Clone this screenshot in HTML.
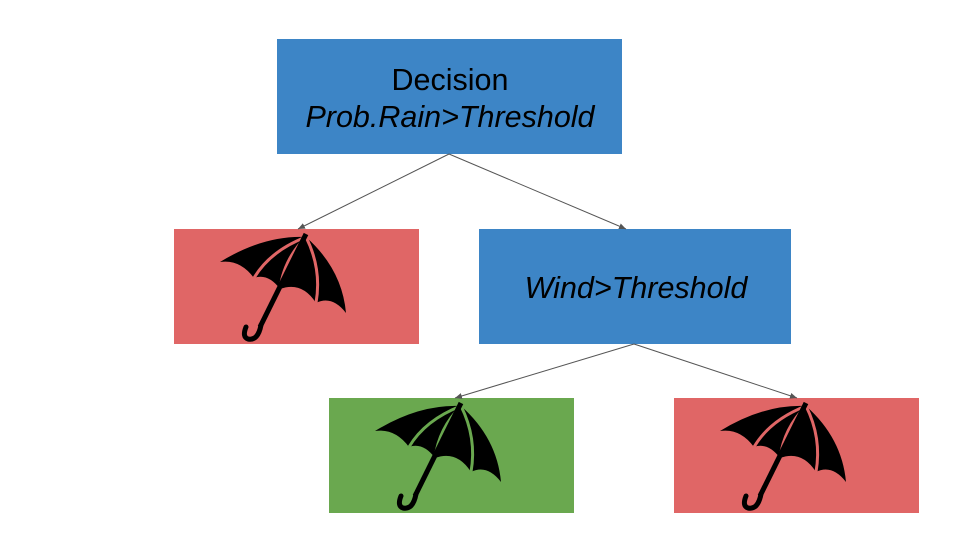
<!DOCTYPE html>
<html><head><style>
html,body{margin:0;padding:0;background:#fff;width:960px;height:540px;overflow:hidden}
</style></head><body>
<svg width="960" height="540" xmlns="http://www.w3.org/2000/svg" font-family="Liberation Sans, sans-serif">
<defs>
<marker id="a" markerWidth="8" markerHeight="8" refX="7" refY="4" orient="auto" markerUnits="userSpaceOnUse">
<path d="M0,1 L7,4 L0,7 z" fill="#555"/></marker>
<g id="u">
<path d="M46,33 Q90,6 132,8 Q168,40 172,84 Q158,66 142,74 Q128,52 106,60 Q94,44 80,49 Q66,30 46,33 Z" fill="#000"/>
<path d="M132,8 Q96,22 80,49" fill="none" stroke="currentColor" stroke-width="3"/>
<path d="M132,8 Q110,30 106,60" fill="none" stroke="currentColor" stroke-width="3"/>
<path d="M132,8 Q148,40 142,74" fill="none" stroke="currentColor" stroke-width="3"/>
<path d="M132,5 L86,98" stroke="#000" stroke-width="5"/>
<path d="M87,96 Q84,112 74,110 Q68,108 72,98" fill="none" stroke="#000" stroke-width="5" stroke-linecap="round"/>
</g>
</defs>
<rect x="277" y="39" width="345" height="115" fill="#3d85c6"/>
<text x="450" y="90" font-size="30.5" text-anchor="middle">Decision</text>
<text x="450" y="127" font-size="30.5" font-style="italic" text-anchor="middle">Prob.Rain&gt;Threshold</text>
<rect x="174" y="229" width="245" height="115" fill="#e06666"/>
<rect x="479" y="229" width="312" height="115" fill="#3d85c6"/>
<text x="636" y="298" font-size="30.5" font-style="italic" text-anchor="middle">Wind&gt;Threshold</text>
<rect x="329" y="398" width="245" height="115" fill="#6aa84f"/>
<rect x="674" y="398" width="245" height="115" fill="#e06666"/>
<use href="#u" x="174" y="229" color="#e06666"/>
<use href="#u" x="329" y="398" color="#6aa84f"/>
<use href="#u" x="674" y="398" color="#e06666"/>
<g stroke="#555" stroke-width="1" marker-end="url(#a)">
<line x1="449" y1="154" x2="298" y2="229"/>
<line x1="449" y1="154" x2="626" y2="229"/>
<line x1="634" y1="344" x2="455" y2="398"/>
<line x1="634" y1="344" x2="797" y2="398"/>
</g>
</svg>
</body></html>
